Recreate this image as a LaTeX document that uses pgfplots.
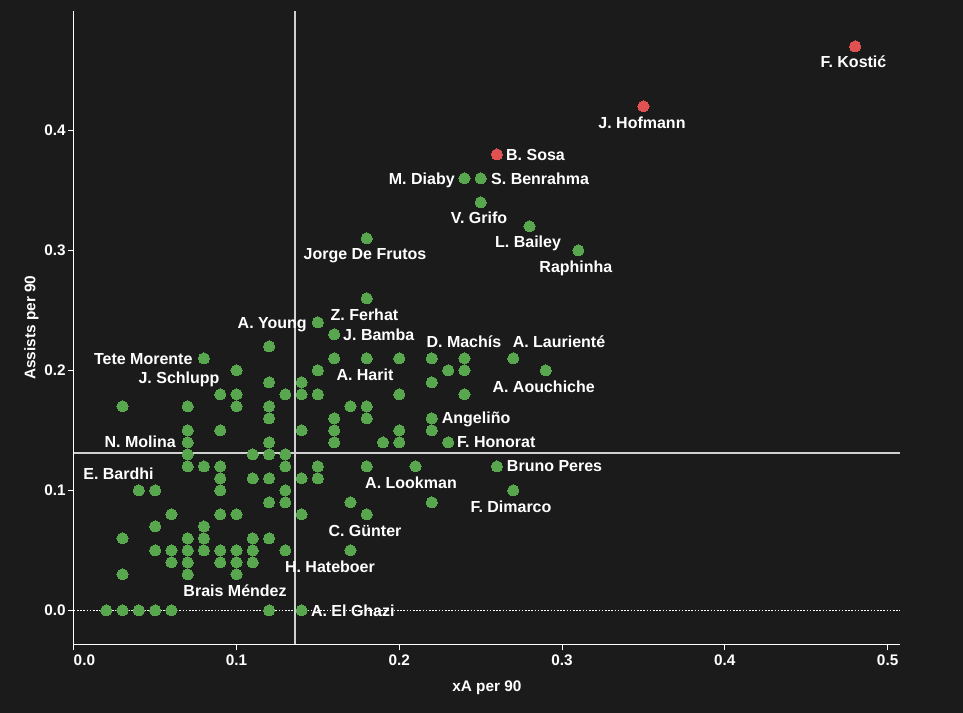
\documentclass[border=0pt]{standalone}
\usepackage{pgfplots}
\pgfplotsset{compat=1.18}
\usepackage{fontspec}
\setmainfont{Liberation Sans}
\definecolor{bg}{HTML}{1B1B1B}
\definecolor{ptgreen}{HTML}{58A64D}
\definecolor{ptred}{HTML}{E05252}
\definecolor{meanline}{HTML}{D0D0D0}
\newcommand{\lbl}{\fontsize{11.5}{13}\selectfont\bfseries}
\newcommand{\plbl}{\fontsize{12}{14}\selectfont\bfseries}
\tikzset{lab/.style={font=\plbl, text=white, inner sep=0pt, text height=8.6pt, text depth=0pt}}
\begin{document}
\begin{tikzpicture}
\fill[bg] (0,0) rectangle (722.25pt,534.75pt);
\begin{axis}[
  at={(55.3pt,51.5pt)}, anchor=south west,
  scale only axis, width=619.7pt, height=475pt,
  xmin=0, xmax=0.5076, ymin=-0.0283, ymax=0.4995,
  axis x line=bottom, axis y line=left,
  axis line style={white, line width=1.1pt, -},
  xtick={0,0.1,0.2,0.3,0.4,0.5},
  xticklabels={\makebox[0pt][l]{0.0},0.1,0.2,0.3,0.4,0.5},
  ytick={0,0.1,0.2,0.3,0.4},
  yticklabels={0.0,0.1,0.2,0.3,0.4},
  tick align=outside, major tick length=4.5pt,
  tick style={white, line width=0.8pt},
  ticklabel style={font=\lbl, text=white},
  yticklabel style={inner xsep=1.3pt},
  xlabel={xA per 90}, ylabel={Assists per 90},
  xlabel style={at={(axis description cs:0.5,-0.0654)}, anchor=center, font=\lbl, text=white, inner sep=0pt, text height=8.2pt, text depth=0pt},
  ylabel style={at={(axis description cs:-0.0529,0.5)}, anchor=center, font=\lbl, text=white, inner sep=0pt, text height=8.2pt, text depth=0pt},
  clip=false,
]
% zero line and mean lines
\addplot[white, line width=0.6pt, dash pattern=on 1.2pt off 1.2pt] coordinates {(0,0) (0.5076,0)};
\addplot[meanline, line width=1.3pt] coordinates {(0.1359,-0.0283) (0.1359,0.4995)};
\addplot[meanline, line width=1.3pt] coordinates {(0,0.1311) (0.5076,0.1311)};
% green points
\addplot[only marks, mark=*, mark size=4.2pt, mark options={draw=ptgreen, fill=ptgreen, line width=0pt}] table {
x y
0.02 0
0.03 0
0.04 0
0.05 0
0.06 0
0.12 0
0.14 0
0.03 0.03
0.07 0.03
0.10 0.03
0.06 0.04
0.07 0.04
0.09 0.04
0.10 0.04
0.11 0.04
0.05 0.05
0.06 0.05
0.07 0.05
0.08 0.05
0.09 0.05
0.10 0.05
0.11 0.05
0.13 0.05
0.17 0.05
0.03 0.06
0.07 0.06
0.08 0.06
0.11 0.06
0.12 0.06
0.05 0.07
0.08 0.07
0.06 0.08
0.09 0.08
0.10 0.08
0.14 0.08
0.18 0.08
0.12 0.09
0.13 0.09
0.17 0.09
0.22 0.09
0.04 0.10
0.05 0.10
0.09 0.10
0.13 0.10
0.27 0.10
0.09 0.11
0.11 0.11
0.12 0.11
0.14 0.11
0.15 0.11
0.07 0.12
0.08 0.12
0.09 0.12
0.13 0.12
0.15 0.12
0.18 0.12
0.21 0.12
0.26 0.12
0.07 0.13
0.11 0.13
0.12 0.13
0.13 0.13
0.07 0.14
0.12 0.14
0.16 0.14
0.19 0.14
0.20 0.14
0.23 0.14
0.07 0.15
0.09 0.15
0.14 0.15
0.16 0.15
0.20 0.15
0.22 0.15
0.12 0.16
0.16 0.16
0.18 0.16
0.22 0.16
0.03 0.17
0.07 0.17
0.10 0.17
0.12 0.17
0.17 0.17
0.18 0.17
0.09 0.18
0.10 0.18
0.13 0.18
0.14 0.18
0.15 0.18
0.20 0.18
0.24 0.18
0.12 0.19
0.14 0.19
0.22 0.19
0.10 0.20
0.15 0.20
0.23 0.20
0.24 0.20
0.29 0.20
0.08 0.21
0.16 0.21
0.18 0.21
0.20 0.21
0.22 0.21
0.24 0.21
0.27 0.21
0.12 0.22
0.16 0.23
0.15 0.24
0.18 0.26
0.31 0.30
0.18 0.31
0.28 0.32
0.25 0.34
0.24 0.36
0.25 0.36
};
% red points
\addplot[only marks, mark=*, mark size=4.2pt, mark options={draw=ptred, fill=ptred, line width=0pt}] table {
x y
0.26 0.38
0.35 0.42
0.48 0.47
};
% labels
\node[lab] at (axis cs:0.4790,0.4571) {F. Kostić};
\node[lab] at (axis cs:0.3491,0.4067) {J. Hofmann};
\node[lab, anchor=west] at (axis cs:0.2655,0.38) {B. Sosa};
\node[lab, anchor=west] at (axis cs:0.2563,0.36) {S. Benrahma};
\node[lab, anchor=east] at (axis cs:0.2342,0.36) {M. Diaby};
\node[lab] at (axis cs:0.2490,0.3275) {V. Grifo};
\node[lab] at (axis cs:0.2791,0.3075) {L. Bailey};
\node[lab] at (axis cs:0.3085,0.2867) {Raphinha};
\node[lab] at (axis cs:0.1789,0.2975) {Jorge De Frutos};
\node[lab] at (axis cs:0.1786,0.2467) {Z. Ferhat};
\node[lab, anchor=east] at (axis cs:0.1433,0.24) {A. Young};
\node[lab, anchor=west] at (axis cs:0.1654,0.23) {J. Bamba};
\node[lab] at (axis cs:0.2397,0.2242) {D. Machís};
\node[lab] at (axis cs:0.2981,0.2242) {A. Laurienté};
\node[lab] at (axis cs:0.2887,0.1861) {A. Aouchiche};
\node[lab] at (axis cs:0.1789,0.1967) {A. Harit};
\node[lab, anchor=east] at (axis cs:0.0731,0.21) {Tete Morente};
\node[lab] at (axis cs:0.0647,0.1936) {J. Schlupp};
\node[lab, anchor=east] at (axis cs:0.0628,0.1403) {N. Molina};
\node[lab] at (axis cs:0.0275,0.1139) {E. Bardhi};
\node[lab, anchor=west] at (axis cs:0.2260,0.1603) {Angeliño};
\node[lab, anchor=west] at (axis cs:0.2354,0.1403) {F. Honorat};
\node[lab, anchor=west] at (axis cs:0.2660,0.1203) {Bruno Peres};
\node[lab] at (axis cs:0.2686,0.0867) {F. Dimarco};
\node[lab] at (axis cs:0.2072,0.1067) {A. Lookman};
\node[lab] at (axis cs:0.1789,0.0664) {C. Günter};
\node[lab] at (axis cs:0.1574,0.0364) {H. Hateboer};
\node[lab] at (axis cs:0.0991,0.0167) {Brais Méndez};
\node[lab, anchor=west] at (axis cs:0.1456,0) {A. El Ghazi};
\end{axis}
\pgfresetboundingbox
\path[use as bounding box] (0,0) rectangle (722.25pt,534.75pt);
\end{tikzpicture}
\end{document}
